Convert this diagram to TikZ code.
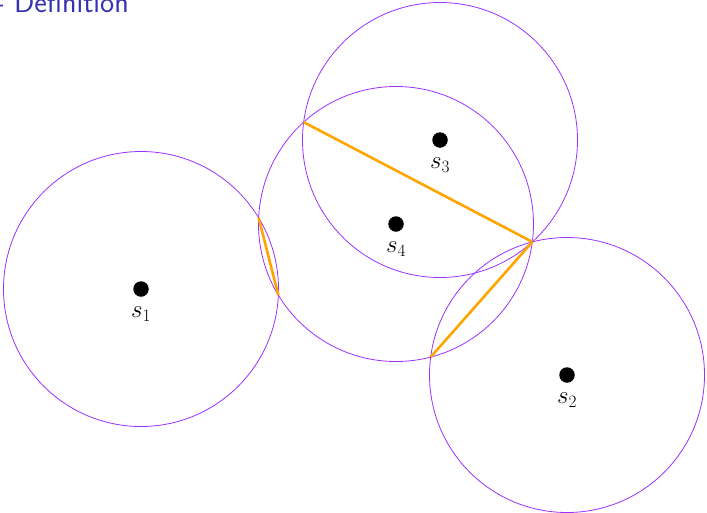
\documentclass[tikz,border=0pt]{standalone}
\usetikzlibrary{intersections}
\definecolor{circcol}{RGB}{155,48,255}
\definecolor{edgecol}{RGB}{255,165,0}
\definecolor{titlecol}{RGB}{51,51,178}
\begin{document}
\begin{tikzpicture}[x=1pt,y=-1pt,
  site/.style={circle,fill=black,inner sep=0pt,minimum size=15.5pt},
  sitelabel/.style={font=\fontsize{24}{28}\selectfont,inner sep=0pt},
  ring/.style={draw=circcol,line width=0.8pt},
  edge/.style={draw=edgecol,line width=2.6pt}]
\useasboundingbox (0,0) rectangle (707,512);
\node[anchor=base east,text=titlecol,font=\sffamily\fontsize{30}{34}\selectfont,inner sep=0pt] (title) at (129,12) {- Definition};
\def\R{137.5}
\path[ring,name path=c1] (141,289) circle[radius=\R];
\path[ring,name path=c2] (567,375) circle[radius=\R];
\path[ring,name path=c3] (440,140) circle[radius=\R];
\path[ring,name path=c4] (396,224) circle[radius=\R];
\path[name intersections={of=c1 and c4,by={a1,a2}}];
\path[name intersections={of=c3 and c4,by={b1,b2}}];
\path[name intersections={of=c2 and c4,by={d1,d2}}];
\draw[edge] (a1) -- (a2);
\draw[edge] (b1) -- (b2);
\draw[edge] (d1) -- (d2);
\node[site] (s1) at (141,289) {};
\node[site] (s2) at (567,375) {};
\node[site] (s3) at (440,140) {};
\node[site] (s4) at (396,224) {};
\node[sitelabel,anchor=north] (l1) at ([yshift=-10pt]s1.south) {$s_1$};
\node[sitelabel,anchor=north] (l2) at ([yshift=-10pt]s2.south) {$s_2$};
\node[sitelabel,anchor=north] (l3) at ([yshift=-10pt]s3.south) {$s_3$};
\node[sitelabel,anchor=north] (l4) at ([yshift=-10pt]s4.south) {$s_4$};
\end{tikzpicture}
\end{document}
